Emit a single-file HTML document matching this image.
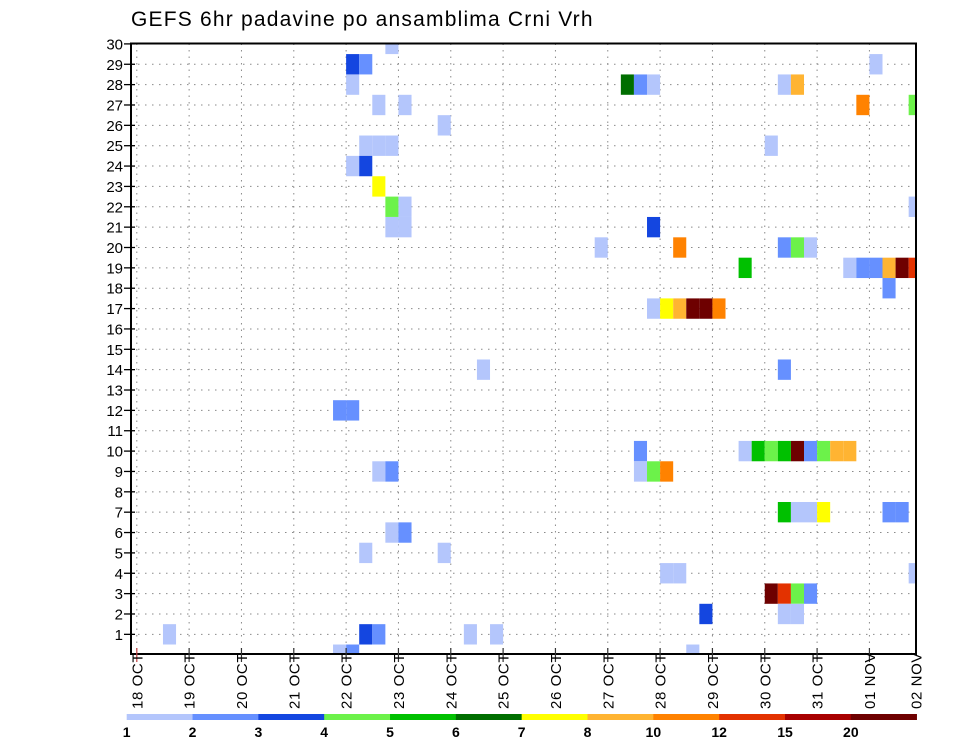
<!DOCTYPE html>
<html><head><meta charset="utf-8">
<style>
html,body{margin:0;padding:0;background:#fff;}
svg{display:block;font-family:"Liberation Sans",sans-serif;}
</style></head>
<body>
<svg id="chart" width="960" height="742" viewBox="0 0 960 742" xmlns="http://www.w3.org/2000/svg">
<text x="131" y="26" font-size="21" letter-spacing="1.2" fill="#000">GEFS 6hr padavine po ansamblima Crni Vrh</text>
<defs><clipPath id="plotclip"><rect x="131" y="43.5" width="785" height="610.5"/></clipPath></defs>
<g id="grid"></g>
<g id="cells" clip-path="url(#plotclip)"></g>
<rect x="131" y="43.5" width="785" height="610.5" fill="none" stroke="#000" stroke-width="2"/>
<g id="yaxis"></g>
<g id="xaxis"></g>
<g id="legend"></g>
</svg>
<script>
// ---- data ----
const members = [30,29,29,29,28,28,28,28,28,28,27,27,27,27,26,25,25,25,25,24,24,23,22,22,22,21,21,21,20,20,20,20,20,19,19,19,19,19,19,19,18,17,17,17,17,17,17,14,14,12,12,10,10,10,10,10,10,10,10,10,10,9,9,9,9,9,7,7,7,7,7,7,6,6,5,5,4,4,4,3,3,3,3,2,2,2,1,1,1,1,1,0,0,0];
const steps   = [19,16,17,56,16,37,38,39,49,50,18,20,55,59,23,17,18,19,48,16,17,18,19,20,59,19,20,39,35,41,49,50,51,46,54,55,56,57,58,59,57,39,40,41,42,43,44,26,49,15,16,38,46,47,48,49,50,51,52,53,54,18,19,38,39,40,49,50,51,52,57,58,19,20,17,23,40,41,59,48,49,50,51,43,49,50,2,17,18,25,27,15,16,42];
const precip  = [1.5,3.5,2.5,1.5,1.5,6.5,2.5,1.5,1.5,9,1.5,1.5,11,4.5,1.5,1.5,1.5,1.5,1.5,1.5,3.5,7.5,4.5,1.5,1.5,1.5,1.5,3.5,1.5,11,2.5,4.5,1.5,5.5,1.5,2.5,2.5,9,25,13,2.5,1.5,7.5,9,25,25,11,1.5,2.5,2.5,2.5,2.5,1.5,5.5,4.5,5.5,25,2.5,4.5,9,9,1.5,2.5,1.5,4.5,11,5.5,1.5,1.5,7.5,2.5,2.5,1.5,2.5,1.5,1.5,1.5,1.5,1.5,25,13,4.5,2.5,3.5,1.5,1.5,1.5,3.5,2.5,1.5,1.5,1.5,2.5,1.5];
const levels  = [1,2,3,4,5,6,7,8,10,12,15,20];
const levelColors = ["#b4c6fc","#6690ff","#1446e0","#6cf24a","#00c000","#006e00","#ffff00","#ffb432","#ff8200","#e33200","#a80000","#6e0000"];
const dayLabels = ["18 OCT","19 OCT","20 OCT","21 OCT","22 OCT","23 OCT","24 OCT","25 OCT","26 OCT","27 OCT","28 OCT","29 OCT","30 OCT","31 OCT","01 NOV","02 NOV"];
const memberTicks = [1,2,3,4,5,6,7,8,9,10,11,12,13,14,15,16,17,18,19,20,21,22,23,24,25,26,27,28,29,30];

// ---- axes ----
const NS="http://www.w3.org/2000/svg";
const X0=136.8, DAY=52.33, STEP=DAY/4, PL=131, PR=916, PT=43.5, PB=654;
const ROWH=20.36, Y0=654.7;
function xStep(k){return X0+k*STEP;}
function xDay(d){return Math.min(X0+d*DAY, PR);}
function yMem(n){return Y0-n*ROWH;}
function colorFor(v){let c=null;for(let i=0;i<levels.length;i++){if(v>=levels[i])c=levelColors[i];}return c;}
function mk(tag,attrs,parent){const e=document.createElementNS(NS,tag);for(const k in attrs)e.setAttribute(k,attrs[k]);parent.appendChild(e);return e;}

const grid=document.getElementById('grid');
memberTicks.forEach(n=>{
  if(n>=30) return;
  const g=mk('line',{x1:PL,x2:PR,y1:yMem(n),y2:yMem(n),stroke:'#8a8a8a','stroke-width':1,'stroke-dasharray':'1.5 5.5'},grid);
  
  
});
dayLabels.forEach((lab,d)=>{
  const x=X0+d*DAY; if(x>=PR-2) return;
  const g=mk('line',{x1:x,x2:x,y1:PT,y2:PB,stroke:'#8a8a8a','stroke-width':1,'stroke-dasharray':'1.5 5'},grid);
  
  
});

const cells=document.getElementById('cells');
for(let i=0;i<members.length;i++){
  const c=colorFor(precip[i]); if(!c) continue;
  const r=mk('rect',{x:xStep(steps[i]),y:yMem(members[i])-ROWH/2,width:STEP,height:ROWH,fill:c},cells);
  
  
}

const yax=document.getElementById('yaxis');
memberTicks.forEach(n=>{
  const y=yMem(n);
  const t=mk('line',{x1:PL-7,x2:PL+4,y1:y,y2:y,stroke:'#000','stroke-width':1.3},yax);
  
  
  const l=mk('text',{x:PL-8,y:y+5.5,'text-anchor':'end','font-size':15,fill:'#000'},yax);
  l.textContent=n;
  
  
});

const xax=document.getElementById('xaxis');
dayLabels.forEach((lab,d)=>{
  const x=xDay(d);
  if(x<PR-2){
    const t=mk('line',{x1:x,x2:x,y1:PB-6,y2:PB+8,stroke:d===0?'#c04040':'#333','stroke-width':1.2},xax);
    
    
  }
  const l=mk('text',{x:0,y:0,'text-anchor':'start','font-size':15,'letter-spacing':'0.6',fill:'#000',transform:`translate(${x+5.5},709) rotate(-90)`},xax);
  l.textContent=lab;
  
  
});

const leg=document.getElementById('legend');
const LX=126.7, LW=65.83;
levels.forEach((lv,i)=>{
  const r=mk('rect',{x:LX+i*LW,y:714,width:LW+0.3,height:6,fill:levelColors[i]},leg);
  
  
  const t=mk('text',{x:LX+i*LW,y:737,'text-anchor':'middle','font-size':14,'font-weight':'bold',fill:'#000'},leg);
  t.textContent=lv;
  
  
});
</script>
</body></html>
